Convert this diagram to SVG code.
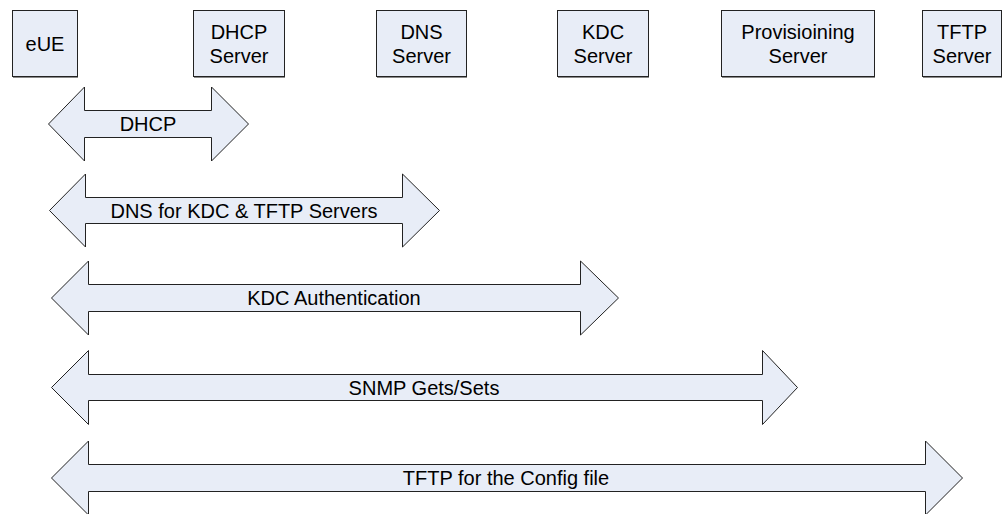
<svg xmlns="http://www.w3.org/2000/svg" width="1003" height="514" viewBox="0 0 1003 514">
  <style>
    .box { fill: #e8edf7; stroke: #222; stroke-width: 1; }
    .shadow { fill: none; stroke: #8a8a8a; stroke-width: 1; }
    .arrow { fill: #e8edf7; stroke: #222; stroke-width: 1; stroke-linejoin: miter; }
    .label { font-family: "Liberation Sans", Arial, sans-serif; font-size: 20px; fill: #000; text-anchor: middle; }
  </style>
  <rect width="1003" height="514" fill="#fff"/>

  <!-- network elements -->
  <g id="eUE">
    <rect class="box" x="12.5" y="10.5" width="65" height="66"/>
    <path class="shadow" d="M13 77.5H78"/>
    <text class="label" x="45" y="51">eUE</text>
  </g>
  <g id="dhcp-server">
    <rect class="box" x="193.5" y="10.5" width="91" height="66"/>
    <path class="shadow" d="M194 77.5H285"/>
    <text class="label" x="239" y="39">DHCP</text>
    <text class="label" x="239" y="63">Server</text>
  </g>
  <g id="dns-server">
    <rect class="box" x="376.5" y="10.5" width="90" height="66"/>
    <path class="shadow" d="M377 77.5H467"/>
    <text class="label" x="421.5" y="39">DNS</text>
    <text class="label" x="421.5" y="63">Server</text>
  </g>
  <g id="kdc-server">
    <rect class="box" x="557.5" y="10.5" width="91" height="66"/>
    <path class="shadow" d="M558 77.5H649"/>
    <text class="label" x="603" y="39">KDC</text>
    <text class="label" x="603" y="63">Server</text>
  </g>
  <g id="provisioning-server">
    <rect class="box" x="721.5" y="10.5" width="153" height="66"/>
    <path class="shadow" d="M722 77.5H875"/>
    <text class="label" x="798" y="39">Provisioining</text>
    <text class="label" x="798" y="63">Server</text>
  </g>
  <g id="tftp-server">
    <rect class="box" x="922.5" y="10.5" width="79" height="66"/>
    <path class="shadow" d="M923 77.5H1002"/>
    <text class="label" x="962" y="39">TFTP</text>
    <text class="label" x="962" y="63">Server</text>
  </g>

  <!-- two-way exchanges between eUE and each server -->
  <g id="connectors">
    <g id="dhcp-exchange">
      <path class="arrow" d="M48.5 124 L84.5 87 V110.5 H211.5 V87 L248.5 124 L211.5 161 V137.5 H84.5 V161 Z"/>
      <text class="label" x="148" y="131">DHCP</text>
    </g>
    <g id="dns-exchange">
      <path class="arrow" d="M49.5 210.5 L85.5 174 V197.5 H402.5 V174 L439.5 210.5 L402.5 247 V223.5 H85.5 V247 Z"/>
      <text class="label" x="244" y="217.5">DNS for KDC &amp; TFTP Servers</text>
    </g>
    <g id="kdc-exchange">
      <path class="arrow" d="M51.5 298 L88.5 261 V284.5 H580.5 V261 L618.5 298 L580.5 335 V311.5 H88.5 V335 Z"/>
      <text class="label" x="334" y="305">KDC Authentication</text>
    </g>
    <g id="snmp-exchange">
      <path class="arrow" d="M51.5 387.5 L88.5 350.5 V374.5 H762.5 V350.5 L797.5 387.5 L762.5 424.5 V400.5 H88.5 V424.5 Z"/>
      <text class="label" x="424" y="394.5">SNMP Gets/Sets</text>
    </g>
    <g id="tftp-exchange">
      <path class="arrow" d="M51.5 478 L88.5 441 V464.5 H925.5 V441 L962.5 478 L925.5 515 V491.5 H88.5 V515 Z"/>
      <text class="label" x="506" y="485">TFTP for the Config file</text>
    </g>
  </g>
</svg>
